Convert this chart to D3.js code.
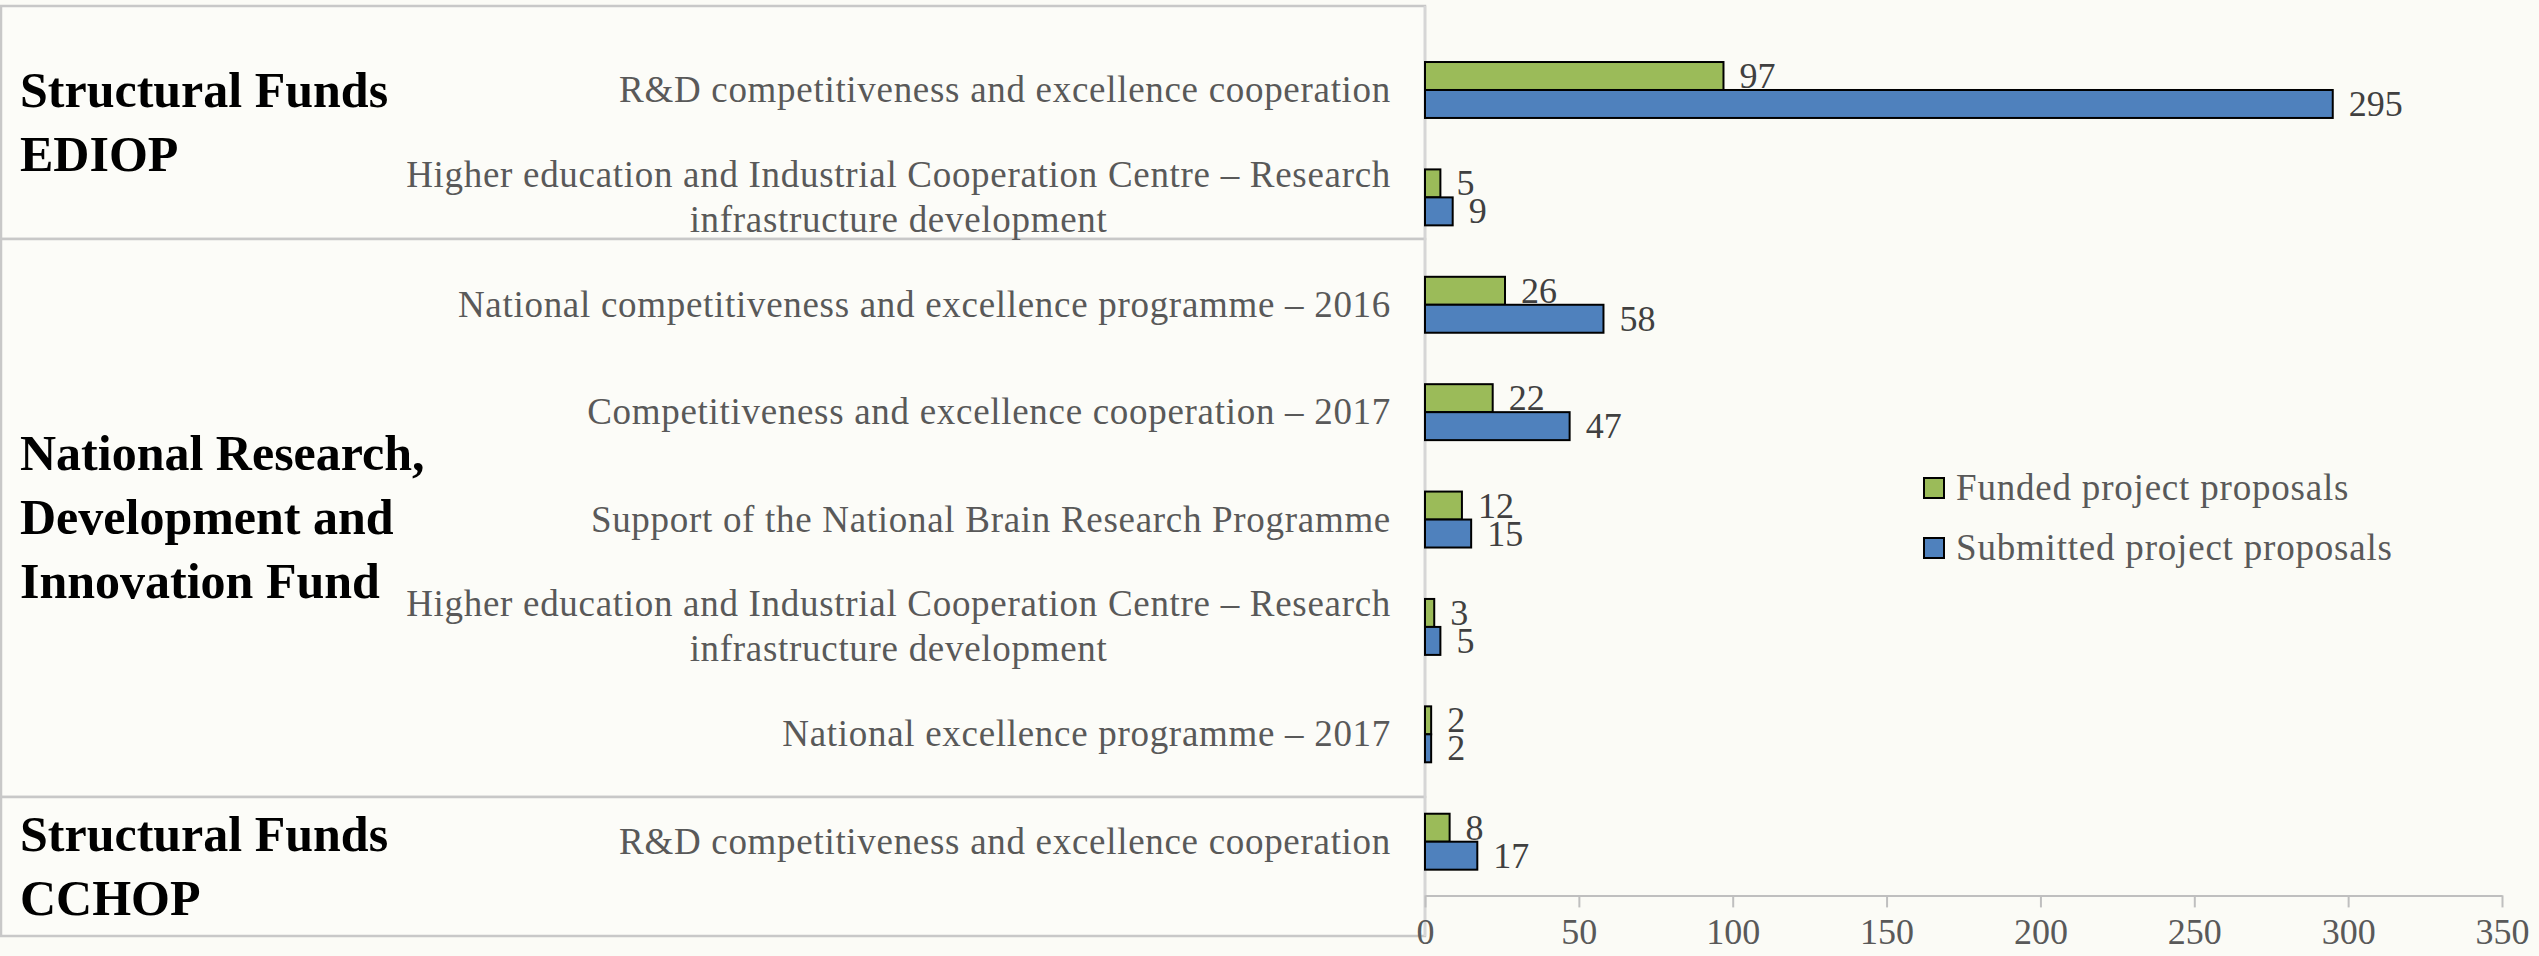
<!DOCTYPE html>
<html>
<head>
<meta charset="utf-8">
<script src="https://cdn.jsdelivr.net/npm/d3@7"></script>
<style>
  html, body { margin: 0; padding: 0; background: #FBFBF6; }
  svg { display: block; }
</style>
</head>
<body>
<svg id="chart" width="2539" height="956"></svg>
<script>
// ---------------- DATA ----------------
const categories = [
  "R&D competitiveness and excellence cooperation",
  "Higher education and Industrial Cooperation Centre – Research|infrastructure development",
  "National competitiveness and excellence programme – 2016",
  "Competitiveness and excellence cooperation – 2017",
  "Support of the National Brain Research Programme",
  "Higher education and Industrial Cooperation Centre – Research|infrastructure development",
  "National excellence programme – 2017",
  "R&D competitiveness and excellence cooperation"
];
const funded    = [97, 5, 26, 22, 12, 3, 2, 8];
const submitted = [295, 9, 58, 47, 15, 5, 2, 17];
const seriesNames = ["Funded project proposals", "Submitted project proposals"];
const groupLabels = [
  ["Structural Funds", "EDIOP"],
  ["National Research,", "Development and", "Innovation Fund"],
  ["Structural Funds", "CCHOP"]
];
const xTicks = [0, 50, 100, 150, 200, 250, 300, 350];

// ---------------- LAYOUT ----------------
const W = 2539, H = 956;
const plot = { left: 1425, right: 2502, top: 36.3, bottom: 895.4 };
const boxEdges = [6, 239, 797, 936];     // table cell borders on the left
const colors = { funded: "#9BBB59", submitted: "#4F81BD" };
const serif = "'Liberation Serif', 'Times New Roman', serif";
const LS = 0.7; // letter spacing to mimic the wider Garamond face

const svg = d3.select("#chart");
svg.append("rect").attr("width", W).attr("height", H).attr("fill", "#FBFBF6");

const x = d3.scaleLinear().domain([0, 350]).range([plot.left, plot.right]);
const y = d3.scaleBand().domain(d3.range(categories.length))
  .range([plot.top, plot.bottom]).paddingInner(0.479).paddingOuter(0.2395);
const bh = y.bandwidth() / 2;

// ---- left table boxes ----
const boxes = svg.append("g");
for (let i = 0; i < boxEdges.length - 1; i++) {
  boxes.append("rect")
    .attr("x", 1).attr("y", boxEdges[i])
    .attr("width", plot.left - 1).attr("height", boxEdges[i + 1] - boxEdges[i])
    .attr("fill", "#FCFCF8").attr("stroke", "#C8C8C8").attr("stroke-width", 2.5);
}
svg.append("line").attr("x1", plot.left).attr("x2", plot.left)
  .attr("y1", boxEdges[0]).attr("y2", boxEdges[3])
  .attr("stroke", "#D6D6D6").attr("stroke-width", 2.5);

// ---- group labels ----
groupLabels.forEach((lines, i) => {
  const cy = (boxEdges[i] + boxEdges[i + 1]) / 2;
  const lh = 64;
  const t = svg.append("text")
    .attr("font-family", serif).attr("font-weight", "bold")
    .attr("font-size", 50).attr("fill", "#000");
  lines.forEach((ln, j) => {
    t.append("tspan").attr("x", 20)
      .attr("y", cy + (j - (lines.length - 1) / 2) * lh + 16)
      .text(ln);
  });
});

// ---- category labels ----
const labelRight = 1391;
categories.forEach((c, i) => {
  const cy = y(i) + y.bandwidth() / 2;
  const parts = c.split("|");
  const g = svg.append("g")
    .attr("font-family", serif).attr("font-size", 37).attr("fill", "#595959")
    .attr("letter-spacing", LS);
  if (parts.length === 1) {
    g.append("text").attr("x", labelRight).attr("y", cy + 12)
      .attr("text-anchor", "end").text(parts[0]);
  } else {
    const t1 = g.append("text").attr("x", labelRight).attr("y", cy - 10.5)
      .attr("text-anchor", "end").text(parts[0]);
    const w1 = t1.node().getComputedTextLength();
    g.append("text").attr("x", labelRight - w1 / 2).attr("y", cy + 34.5)
      .attr("text-anchor", "middle").text(parts[1]);
  }
});

// ---- x axis ----
const axisG = svg.append("g").attr("transform", `translate(0,${plot.bottom})`)
  .call(d3.axisBottom(x).tickValues(xTicks).tickSize(12).tickSizeOuter(0).tickPadding(10));
axisG.select(".domain").attr("stroke", "#BFBFBF").attr("stroke-width", 2);
axisG.selectAll(".tick line").attr("stroke", "#BFBFBF").attr("stroke-width", 2);
axisG.selectAll(".tick text").attr("font-family", serif).attr("font-size", 36)
  .attr("fill", "#595959").attr("dy", "0.75em");

// ---- bars ----
const series = [
  { name: seriesNames[0], values: funded, color: colors.funded, off: 0 },
  { name: seriesNames[1], values: submitted, color: colors.submitted, off: 1 }
];
series.forEach(s => {
  const g = svg.append("g");
  g.selectAll("rect").data(s.values).join("rect")
    .attr("x", x(0)).attr("y", (d, i) => y(i) + s.off * bh)
    .attr("width", d => x(d) - x(0)).attr("height", bh)
    .attr("fill", s.color).attr("stroke", "#000").attr("stroke-width", 2);
  g.selectAll("text").data(s.values).join("text")
    .attr("x", d => x(d) + 16).attr("y", (d, i) => y(i) + s.off * bh + bh / 2 + 12)
    .attr("font-family", serif).attr("font-size", 36).attr("fill", "#404040")
    .text(d => d);
});

// ---- legend ----
const legend = svg.append("g");
series.forEach((s, i) => {
  const cy = 488 + i * 60;
  legend.append("rect").attr("x", 1924).attr("y", cy - 10).attr("width", 20).attr("height", 20)
    .attr("fill", s.color).attr("stroke", "#000").attr("stroke-width", 2);
  legend.append("text").attr("x", 1956).attr("y", cy + 12)
    .attr("font-family", serif).attr("font-size", 37).attr("fill", "#595959")
    .attr("letter-spacing", 0.8)
    .text(s.name);
});
</script>
</body>
</html>
